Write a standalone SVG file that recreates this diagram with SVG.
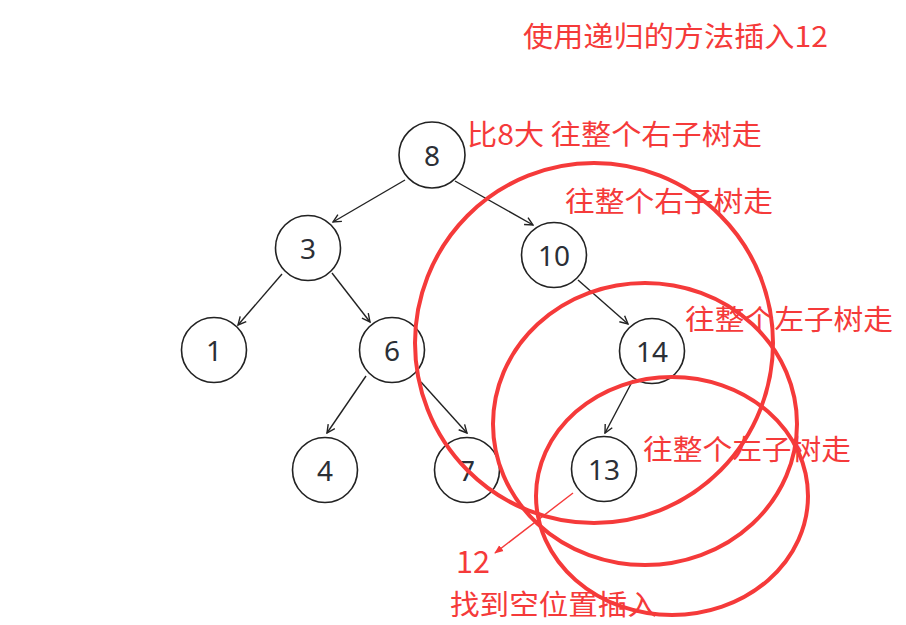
<svg xmlns="http://www.w3.org/2000/svg" width="906" height="625" viewBox="0 0 906 625">
<defs>
<style>
.node circle{fill:#fff;stroke:#222;stroke-width:1.6}
.node text{font-family:"Noto Sans","DejaVu Sans",sans-serif;font-size:28px;fill:#2b2f36;text-anchor:middle}
.edge{stroke:#222;stroke-width:1.4;fill:none;marker-end:url(#arr)}
.note{font-family:"Noto Sans CJK SC","Noto Sans",sans-serif;font-size:28px;fill:#f53a3a}
.ring{fill:none;stroke:#f53a3a;stroke-width:4}
</style>
<marker id="arr" viewBox="0 0 10 10" refX="9" refY="5" markerWidth="10" markerHeight="10" markerUnits="userSpaceOnUse" orient="auto">
<path d="M1,1 L9,5 L1,9" fill="none" stroke="#222" stroke-width="1.4"/>
</marker>
<marker id="rarr" viewBox="0 0 10 10" refX="9" refY="5" markerWidth="9" markerHeight="9" markerUnits="userSpaceOnUse" orient="auto">
<path d="M0,1 L10,5 L0,9 Z" fill="#f53a3a"/>
</marker>
</defs>
<rect width="906" height="625" fill="#fff"/>
<g id="connectors">
<line class="edge" x1="405" y1="180" x2="333" y2="222"/>
<line class="edge" x1="455" y1="181" x2="533" y2="225"/>
<line class="edge" x1="282" y1="274" x2="238" y2="325"/>
<line class="edge" x1="332" y1="273" x2="370" y2="322"/>
<line class="edge" x1="578" y1="280" x2="628" y2="324"/>
<line class="edge" x1="366" y1="376" x2="327" y2="433"/>
<line class="edge" x1="421" y1="382" x2="467" y2="433"/>
<line class="edge" x1="633" y1="380" x2="605" y2="433"/>
</g>
<g id="n8" class="node"><circle cx="432" cy="155" r="33"/><text x="432" y="166">8</text></g>
<g id="n3" class="node"><circle cx="308" cy="248" r="32.5"/><text x="308" y="259">3</text></g>
<g id="n10" class="node"><circle cx="554" cy="255" r="32.5"/><text x="554" y="266">10</text></g>
<g id="n1" class="node"><circle cx="214" cy="350" r="32.5"/><text x="214" y="361">1</text></g>
<g id="n6" class="node"><circle cx="392" cy="350" r="32.5"/><text x="392" y="361">6</text></g>
<g id="n14" class="node"><circle cx="652" cy="351" r="32.5"/><text x="652" y="362">14</text></g>
<g id="n4" class="node"><circle cx="325" cy="470" r="32.5"/><text x="325" y="481">4</text></g>
<g id="n7" class="node"><circle cx="467" cy="470" r="32.5"/><text x="467" y="481">7</text></g>
<g id="n13" class="node"><circle cx="604" cy="469" r="32.5"/><text x="604" y="480">13</text></g>
<g id="annotations">
<ellipse class="ring" cx="594" cy="343" rx="179" ry="180"/>
<ellipse class="ring" cx="645" cy="424" rx="152" ry="141"/>
<ellipse class="ring" cx="672" cy="496" rx="136" ry="119"/>
<line x1="573" y1="493" x2="495" y2="553" stroke="#f53a3a" stroke-width="1.4" marker-end="url(#rarr)"/>
<text class="note" x="523" y="47" textLength="305" lengthAdjust="spacingAndGlyphs">使用递归的方法插入12</text>
<text class="note" x="467" y="145" textLength="295" lengthAdjust="spacingAndGlyphs">比8大 往整个右子树走</text>
<text class="note" x="565" y="212" textLength="208" lengthAdjust="spacingAndGlyphs">往整个右子树走</text>
<text class="note" x="685" y="330" textLength="208" lengthAdjust="spacingAndGlyphs">往整个左子树走</text>
<text class="note" x="643" y="460" textLength="208" lengthAdjust="spacingAndGlyphs">往整个左子树走</text>
<text class="note" x="456" y="573" style="font-size:31px" textLength="34" lengthAdjust="spacingAndGlyphs">12</text>
<text class="note" x="450" y="615" textLength="207" lengthAdjust="spacingAndGlyphs">找到空位置插入</text>
</g>
</svg>
